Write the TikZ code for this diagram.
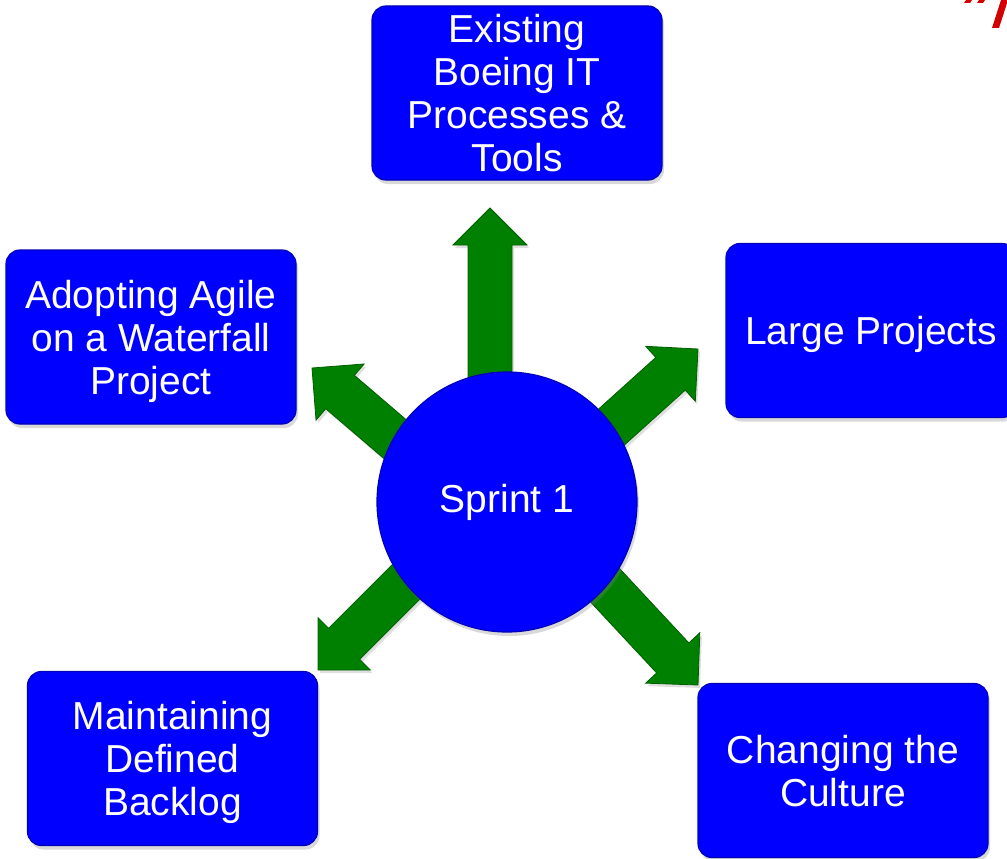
\documentclass[tikz,border=0pt]{standalone}
\usepackage{fontspec}
\setmainfont{Liberation Sans}
\usetikzlibrary{calc,shadows}
\definecolor{boxblue}{RGB}{0,0,255}
\definecolor{edgeblue}{RGB}{0,0,185}
\definecolor{arrowgreen}{RGB}{0,128,0}
\definecolor{edgegreen}{RGB}{0,95,0}
\definecolor{logored}{RGB}{210,0,0}
\tikzset{
  topic/.style={draw=edgeblue, line width=1.2pt, fill=boxblue, rounded corners=14pt,
    minimum width=290pt, minimum height=174pt, align=center, text=white,
    font=\fontsize{39}{43}\selectfont, inner sep=0pt, text depth=0pt,
    drop shadow={opacity=0.3, shadow xshift=2pt, shadow yshift=-4pt}},
  hub/.style={circle, draw=edgeblue, line width=1.2pt, fill=boxblue, minimum size=260pt,
    text=white, font=\fontsize{39}{43}\selectfont, inner sep=0pt,
    drop shadow={opacity=0.3, shadow xshift=2pt, shadow yshift=-4pt}},
  bigarrow/.style={fill=arrowgreen, draw=edgegreen, line width=0.8pt, line join=miter,
    drop shadow={opacity=0.25, shadow xshift=2pt, shadow yshift=-3pt}}
}
\newcommand\greenarrow[2]{%
  \coordinate (#2h) at ($(#2)!37pt!(#1)$);
  \path[bigarrow] ($(#1)!22pt!90:(#2)$) -- ($(#2h)!22pt!90:(#2)$) -- ($(#2h)!37pt!90:(#2)$)
    -- (#2) -- ($(#2h)!37pt!-90:(#2)$) -- ($(#2h)!22pt!-90:(#2)$) -- ($(#1)!22pt!-90:(#2)$) -- cycle;}
\begin{document}
\begin{tikzpicture}[x=1pt,y=-1pt]
\useasboundingbox (0,0) rectangle (1007,859);
\clip (0,0) rectangle (1007,859);
% arrow anchors
\coordinate (sU) at (490,430);  \coordinate (tU) at (490,208);
\coordinate (sUL) at (479,511); \coordinate (tUL) at (312,368);
\coordinate (sUR) at (535,496); \coordinate (tUR) at (698,349);
\coordinate (sLL) at (474,514); \coordinate (tLL) at (318,670);
\coordinate (sLR) at (548,524); \coordinate (tLR) at (698,685);
\greenarrow{sU}{tU}
\greenarrow{sUL}{tUL}
\greenarrow{sUR}{tUR}
\greenarrow{sLL}{tLL}
\greenarrow{sLR}{tLR}
% hub
\node[hub] (sprint) at (507,502) {Sprint 1};
% topic boxes
\node[topic] (existing) at (517,93) {Existing\\Boeing IT\\Processes \&\\Tools};
\node[topic] (adopting) at (151,337) {Adopting Agile\\on a Waterfall\\Project};
\node[topic] (large) at (871,330.5) {Large Projects};
\node[topic] (maintain) at (172.5,758.5) {Maintaining\\Defined\\Backlog};
\node[topic] (culture) at (843,770.5) {Changing the\\Culture};
% cropped red mark, top right
\fill[logored] (992,28) -- (999,28) -- (1008,0) -- (1001,0) -- cycle;
\fill[logored] (966,0) -- (972,0) -- (970,3) -- (964,3) -- cycle;
\fill[logored] (979,0) -- (985,0) -- (983,3) -- (977,3) -- cycle;
\end{tikzpicture}
\end{document}
